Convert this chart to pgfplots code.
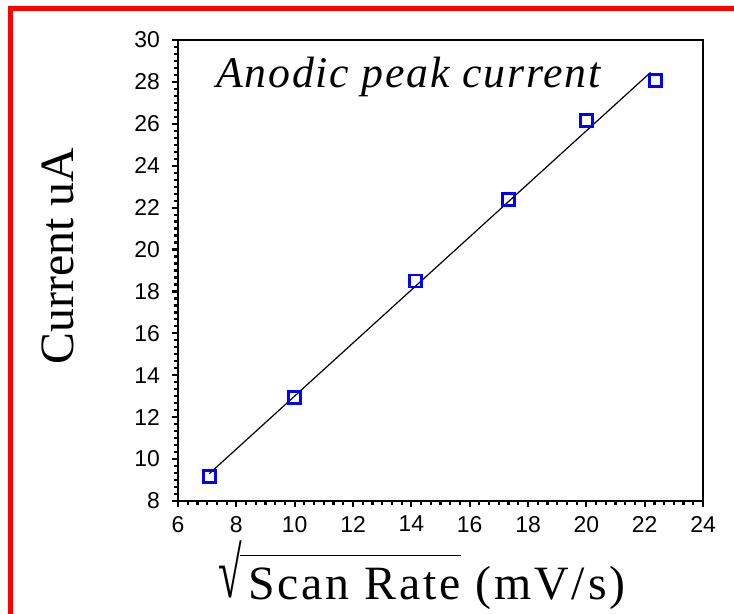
\documentclass[border=0pt]{standalone}
\usepackage{fontspec}
\usepackage{graphicx}
\setmainfont{Liberation Serif}
\newfontfamily\ticksf{Liberation Sans}
\newfontfamily\labelf[LetterSpace=6]{Liberation Serif}
\newfontfamily\italf[LetterSpace=4]{Liberation Serif Italic}
\usepackage{pgfplots}
\pgfplotsset{compat=1.18}
\definecolor{framered}{RGB}{255,0,0}
\definecolor{mk}{RGB}{0,0,255}
\begin{document}
\begin{tikzpicture}[x=1bp,y=1bp]
\useasboundingbox (0,0) rectangle (734,614);
\draw[framered, line width=5bp] (10.5,0) -- (10.5,605.5) -- (734,605.5);
\begin{axis}[
  at={(178bp,113bp)}, anchor=south west,
  scale only axis, width=525bp, height=461bp,
  xmin=6, xmax=24, ymin=8, ymax=30,
  xtick={6,8,...,24}, ytick={8,10,...,30},
  minor x tick num=5, minor y tick num=5,
  xtick pos=bottom, ytick pos=left,
  tick align=outside,
  major tick length=6.5bp, minor tick length=4bp,
  axis line style={line width=2.8bp},
  every tick/.append style={black, line width=2.2bp},
  ticklabel style={font=\fontsize{23}{23}\selectfont\ticksf},
  yticklabel style={xshift=-8bp},
  xticklabel style={yshift=-5bp},
  /pgf/number format/assume math mode=true,
  xlabel={\raisebox{2pt}{\scalebox{0.9}[1.5]{√}}\kern-2pt$\overline{\mbox{\labelf\,Scan Rate\rule{0pt}{0.9em}}}$ (mV/s)},
  xlabel style={font=\fontsize{48}{48}\selectfont\labelf, at={(rel axis cs:0.465,-0.2145)}, anchor=base},
  ylabel={Current uA},
  ylabel style={font=\fontsize{48}{48}\selectfont, at={(rel axis cs:-0.2,0.531)}, anchor=base},
  clip=false,
]
\addplot[black, line width=1.2bp] coordinates {(7.07,9.3) (22.2,28.45)};
\addplot[only marks, mark=square, mark size=6bp, mark options={draw=mk, line width=2.8bp}]
  coordinates {(7.07,9.15) (10,12.95) (14.14,18.5) (17.32,22.4) (20,26.15) (22.36,28.05)};
\node[anchor=base, font=\fontsize{44}{44}\selectfont\italf] at (axis cs:13.9,27.71) {Anodic peak current};
\draw[black, line width=2.8bp] (rel axis cs:0,0) rectangle (rel axis cs:1,1);
\end{axis}
\end{tikzpicture}
\end{document}
